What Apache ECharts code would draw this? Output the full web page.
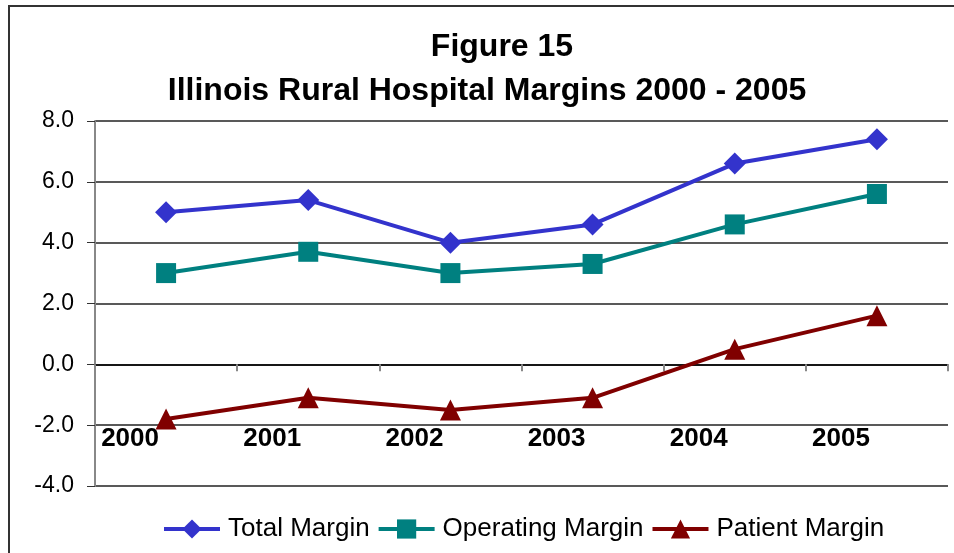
<!DOCTYPE html>
<html>
<head>
<meta charset="utf-8">
<script src="https://cdn.jsdelivr.net/npm/echarts@6/dist/echarts.min.js"></script>
<style>
  html, body { margin: 0; padding: 0; background: #fff; }
  #chart { width: 954px; height: 553px; }
</style>
</head>
<body>
<div id="chart"></div>
<script>
// data
var years = ['2000', '2001', '2002', '2003', '2004', '2005'];
var totalMargin = [5.0, 5.4, 4.0, 4.6, 6.6, 7.4];
var operatingMargin = [3.0, 3.7, 3.0, 3.3, 4.6, 5.6];
var patientMargin = [-1.8, -1.1, -1.5, -1.1, 0.5, 1.6];

var chart = echarts.init(document.getElementById('chart'));

var font = 'Liberation Sans, Arial, sans-serif';

var option = {
  animation: false,
  textStyle: { fontFamily: font },
  title: [{
    text: 'Figure 15',
    left: 497,
    top: 26,
    textAlign: 'center',
    textStyle: { fontSize: 32, fontWeight: 'bold', color: '#000', fontFamily: font }
  }, {
    text: 'Illinois Rural Hospital Margins 2000 - 2005',
    left: 482,
    top: 70,
    textAlign: 'center',
    textStyle: { fontSize: 32, fontWeight: 'bold', color: '#000', fontFamily: font }
  }],
  graphic: [{
    type: 'rect',
    shape: { x: 9, y: 6, width: 1000, height: 600 },
    style: { fill: 'none', stroke: '#333', lineWidth: 2 },
    silent: true
  }],
  grid: { left: 95, right: 6, top: 121, bottom: 67, outerBoundsMode: 'none' },
  legend: {
    bottom: 6,
    left: 157,
    itemWidth: 56,
    itemHeight: 24,
    itemGap: 7,
    lineStyle: { width: 4 },
    textStyle: { fontSize: 26, color: '#000', fontFamily: font, padding: [0, 0, 0, 3] },
    data: ['Total Margin', 'Operating Margin', 'Patient Margin']
  },
  xAxis: {
    type: 'category',
    data: years,
    boundaryGap: true,
    axisLine: { onZero: true, lineStyle: { color: '#000', width: 1.5 } },
    axisTick: { show: true, alignWithLabel: false, interval: 0, length: 7, lineStyle: { color: '#888', width: 2 } },
    axisLabel: {
      margin: -60,
      fontSize: 26,
      fontWeight: 'bold',
      color: '#000',
      padding: [0, 72, 0, 0]
    }
  },
  yAxis: {
    type: 'value',
    min: -4,
    max: 8,
    interval: 2,
    axisLine: { show: true, lineStyle: { color: '#888', width: 2 } },
    axisTick: { show: true, length: 8, lineStyle: { color: '#333' } },
    axisLabel: {
      margin: 21,
      fontSize: 23,
      color: '#000',
      formatter: function (v) { return v.toFixed(1); }
    },
    splitLine: { lineStyle: { color: '#222', width: 1.5 } }
  },
  series: [
    {
      name: 'Total Margin',
      type: 'line',
      data: totalMargin,
      symbol: 'diamond',
      symbolSize: 22,
      itemStyle: { color: '#3333CC' },
      lineStyle: { color: '#3333CC', width: 4 }
    },
    {
      name: 'Operating Margin',
      type: 'line',
      data: operatingMargin,
      symbol: 'rect',
      symbolSize: 20,
      itemStyle: { color: '#008080' },
      lineStyle: { color: '#008080', width: 4 }
    },
    {
      name: 'Patient Margin',
      type: 'line',
      data: patientMargin,
      symbol: 'triangle',
      symbolSize: 21,
      itemStyle: { color: '#800000' },
      lineStyle: { color: '#800000', width: 4 }
    }
  ]
};

chart.setOption(option);
</script>
</body>
</html>
